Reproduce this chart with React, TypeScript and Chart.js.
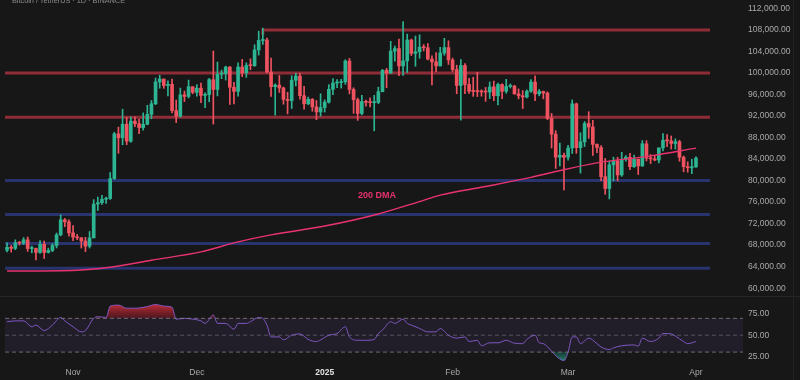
import React, { useEffect, useRef } from 'react';
import { Chart, registerables } from 'chart.js';

Chart.register(...registerables);

const title = 'Bitcoin / TetherUS · 1D · BINANCE';

// one candle per day, day 0 = 2024-10-16, day 167 = 2025-04-01
const opens = [
  67050, 67620, 67400, 68420, 68370, 69000, 67370, 67380, 66650, 68160,
  66640, 67010, 67930, 69910, 72720, 72340, 70280, 69500, 69370, 68780,
  67810, 69360, 75640, 75900, 76540, 76680, 80370, 88700, 87960, 90490,
  87330, 91060, 90580, 89850, 90470, 92310, 94290, 98350, 98890, 97670,
  97900, 93010, 91970, 95950, 95650, 97460, 96410, 97190, 95840, 96000,
  98770, 96950, 99790, 99890, 101110, 97360, 96590, 101120, 100040, 101420,
  101370, 104300, 106060, 106140, 100200, 97460, 97760, 97220, 95100, 94880,
  98670, 99430, 95790, 94280, 95120, 93710, 92770, 93580, 94590, 96980,
  98140, 98230, 98360, 102240, 96950, 95040, 92480, 94700, 94560, 94490,
  94520, 96530, 100500, 99990, 104080, 104550, 101330, 102260, 106140, 103650,
  103960, 104820, 104700, 102590, 102080, 101330, 103730, 104730, 102430, 100640,
  97690, 101400, 97870, 96620, 96590, 96530, 96480, 96470, 97430, 95780,
  97870, 96610, 97510, 97570, 96120, 95780, 95540, 96620, 98330, 96130,
  96580, 96270, 91550, 88640, 84350, 84710, 84350, 86060, 94270, 86120,
  87220, 90620, 89960, 86740, 86150, 80730, 78530, 82930, 83680, 81060,
  83980, 84340, 82580, 84010, 82720, 86850, 84170, 84040, 83830, 86080,
  87500, 87390, 86900, 87230, 84350, 82600, 82390, 82550,
];
const highs = [
  68420, 67940, 68980, 68690, 69400, 69520, 67830, 67470, 68850, 68770,
  67450, 68300, 70250, 73620, 72960, 72700, 71630, 70000, 69390, 69450,
  70550, 76460, 76940, 77250, 76950, 81500, 89000, 89950, 93270, 91790,
  91850, 91880, 91450, 92590, 94000, 94900, 99070, 99590, 98900, 98550,
  98870, 94970, 97200, 96650, 98690, 97460, 97840, 98150, 96300, 99000,
  104090, 102040, 100550, 101290, 101220, 98270, 101900, 102540, 101900, 102650,
  105250, 107790, 108350, 106520, 102800, 98000, 99540, 97400, 96420, 99500,
  99960, 99960, 97540, 95530, 95260, 94900, 96150, 95000, 97840, 98980,
  98780, 98830, 102480, 102720, 97260, 95350, 95840, 94980, 95400, 95850,
  97370, 100680, 100870, 105900, 104990, 106300, 109590, 107240, 106320, 106880,
  107120, 105290, 105470, 103220, 103800, 104780, 106460, 106000, 102780, 101460,
  102500, 101750, 99000, 99220, 100140, 96880, 97320, 98340, 98500, 98120,
  98000, 98830, 97970, 97730, 97050, 96750, 96900, 98770, 99500, 96950,
  96650, 96500, 92500, 89290, 87000, 85120, 86560, 95000, 94420, 88910,
  91000, 92810, 91220, 86850, 86500, 84120, 83620, 84360, 84350, 85260,
  84670, 85050, 84730, 84010, 87450, 87440, 84850, 84550, 86100, 88760,
  88540, 88290, 87780, 87500, 84570, 83500, 83940, 84400,
];
const lows = [
  66750, 66700, 67150, 68000, 68100, 66830, 66570, 65260, 66450, 65520,
  66540, 66800, 67480, 69730, 71430, 69680, 68820, 69030, 67460, 66800,
  67460, 69320, 74450, 75570, 75750, 76490, 80220, 85080, 86660, 86670,
  87120, 90050, 88720, 89380, 90380, 91500, 94120, 97180, 97150, 95740,
  92600, 90790, 91790, 94700, 95360, 96150, 95690, 94500, 93580, 94650,
  90500, 95750, 98950, 98700, 94150, 94260, 95690, 99310, 99200, 100620,
  101230, 103340, 105320, 100000, 95670, 92170, 96400, 94200, 92400, 93400,
  97600, 95140, 93300, 94120, 92900, 91310, 92000, 92740, 94400, 96000,
  97300, 97200, 97900, 96130, 92500, 91200, 92200, 93840, 93700, 89260,
  94320, 96500, 97260, 99950, 102220, 99500, 99550, 100100, 103250, 101260,
  102750, 104110, 102460, 97780, 100270, 101300, 103300, 101600, 100290, 96150,
  91230, 96150, 96200, 95670, 95620, 95690, 94750, 95260, 94850, 94090,
  95220, 96250, 97220, 96050, 95200, 93390, 95370, 96400, 94870, 95770,
  95200, 91350, 86050, 82260, 82750, 78260, 83820, 85040, 85080, 81390,
  86330, 87850, 84670, 85200, 80000, 77460, 76610, 79940, 79940, 80790,
  83630, 82020, 82470, 81130, 82660, 83650, 83170, 83680, 83280, 85540,
  86300, 85860, 85860, 83600, 81640, 81570, 81280, 82430,
];
const closes = [
  67620, 67400, 68420, 68370, 69000, 67370, 67380, 66650, 68160, 66640,
  67010, 67930, 69910, 72720, 72340, 70280, 69500, 69370, 68780, 67810,
  69360, 75640, 75900, 76540, 76680, 80370, 88700, 87960, 90490, 87330,
  91060, 90580, 89850, 90470, 92310, 94290, 98350, 98890, 97670, 97900,
  93010, 91970, 95950, 95650, 97460, 96410, 97190, 95840, 96000, 98770,
  96950, 99790, 99890, 101110, 97360, 96590, 101120, 100040, 101420, 101370,
  104300, 106060, 106140, 100200, 97460, 97760, 97220, 95100, 94880, 98670,
  99430, 95790, 94280, 95120, 93710, 92770, 93580, 94590, 96980, 98140,
  98230, 98360, 102240, 96950, 95040, 92480, 94700, 94560, 94490, 94520,
  96530, 100500, 99990, 104080, 104550, 101330, 102260, 106140, 103650, 103960,
  104820, 104700, 102590, 102080, 101330, 103730, 104730, 102430, 100640, 97690,
  101400, 97870, 96620, 96590, 96530, 96480, 96470, 97430, 95780, 97870,
  96610, 97510, 97570, 96120, 95780, 95540, 96620, 98330, 96130, 96580,
  96270, 91550, 88640, 84350, 84710, 84350, 86060, 94270, 86120, 87220,
  90620, 89960, 86740, 86150, 80730, 78530, 82930, 83680, 81060, 83980,
  84340, 82580, 84010, 82720, 86850, 84170, 84040, 83830, 86080, 87500,
  87390, 86900, 87230, 84350, 82600, 82390, 82550, 84200,
];

// horizontal levels (drawn lines)
const resistanceLevels = [108000, 100000, 91800];
const resistanceStartDays = [62, -0.5, -0.5];
const supportLevels = [80000, 73700, 68300, 63700];
const supportStartDays = [-0.5, -0.5, -0.5, -0.5];
const levelEndDay = 170.4;
const hookPrice = 107100;

// 200-day moving average, read at sample days
const dmaDays = [0, 13, 25, 35, 47, 56, 64, 77, 90, 100, 105, 116, 127, 132, 143, 156, 167];
const dmaValues = [63200, 63250, 63900, 65200, 66750, 68600, 69900, 71550, 73800, 76100, 77300, 78900, 80600, 81500, 83300, 84600, 86050];
const dmaLabel = '200 DMA';
const dmaLabelDay = 89.7;
const dmaLabelPrice = 77150;

// RSI (14)
const rsiDays = [
  0, 2, 4, 6, 7, 9, 11, 13, 14, 16, 18, 19, 21, 22, 24, 25, 27, 29, 31, 34,
  36, 38, 40, 41, 43, 45, 47, 48, 50, 51, 53, 55, 56, 58, 59, 61, 62, 63, 64, 66,
  67, 69, 71, 73, 75, 76, 78, 80, 82, 83, 85, 87, 89, 90, 91, 93, 94, 96, 97, 98,
  100, 102, 104, 105, 107, 109, 111, 112, 114, 115, 117, 119, 121, 123, 125, 126, 128, 129, 130, 132,
  133, 135, 136, 137, 138, 139, 141, 143, 144, 146, 147, 149, 152, 153, 154, 156, 158, 159, 161, 162,
  164, 165, 167,
];
const rsiValues = [
  66, 67, 67, 60, 62, 55.5, 62, 71, 67, 60, 54, 55.5, 70, 72, 71, 84.5, 85.7, 82, 82, 84,
  86.5, 84.5, 83, 69, 70, 69, 67, 64, 74, 64, 64, 57, 64, 64, 66, 71, 70, 62, 48, 48,
  44.5, 50, 51.5, 45, 42.5, 44.5, 50, 52, 60, 48, 44, 44, 45, 52, 56, 66, 64, 69, 64, 62,
  58, 54, 54, 58, 50, 46.5, 48, 42.5, 44, 37.5, 41, 41, 44, 40.5, 40, 45, 50, 41, 40, 31,
  25.7, 20, 30, 48, 48, 40, 46.5, 40, 36, 33, 35, 37.5, 38.5, 37, 46.5, 42.5, 46.5, 52, 51.5, 49,
  42.5, 40, 42.5,
];

const priceTicks = [60000, 64000, 68000, 72000, 76000, 80000, 84000, 88000, 92000, 96000, 100000, 104000, 108000, 112000];
const rsiTicks = [25, 50, 75];
const monthTickDays = [16, 46, 77, 108, 136, 167];
const monthTickLabels = ['Nov', 'Dec', '2025', 'Feb', 'Mar', 'Apr'];

const X_MIN = -0.5;
const X_MAX = 178.4;
const PRICE_MIN = 58360;
const PRICE_MAX = 113580;
const RSI_MIN = 14.7;
const RSI_MAX = 94.7;

const BG = '#171717';
const UP = '#2db593';
const DOWN = '#ef5360';
const RED_LEVEL = '#8f2c37';
const BLUE_LEVEL = '#29346f';
const DMA_COLOR = '#e8336f';
const AXIS_TEXT = '#a9a9a9';
const FONT = '"Liberation Sans", Arial, sans-serif';
const AXIS_W = 57;

const fmtPrice = (v: number) =>
  Number(v).toLocaleString('en-US', { minimumFractionDigits: 2, maximumFractionDigits: 2 });

export default function App() {
  const priceRef = useRef<HTMLCanvasElement | null>(null);
  const rsiRef = useRef<HTMLCanvasElement | null>(null);

  useEffect(() => {
    document.body.style.margin = '0';
    document.body.style.background = BG;
    if (!priceRef.current || !rsiRef.current) return;

    const levelSets: any[] = [];
    resistanceLevels.forEach((lv, i) => {
      const pts: any[] = [];
      if (resistanceStartDays[i] > 0) pts.push({ x: resistanceStartDays[i], y: hookPrice });
      pts.push({ x: resistanceStartDays[i], y: lv });
      pts.push({ x: levelEndDay, y: lv });
      levelSets.push({
        type: 'line', data: pts, borderColor: RED_LEVEL, borderWidth: 3,
        pointRadius: 0, fill: false, order: 5,
      });
    });
    supportLevels.forEach((lv, i) => {
      levelSets.push({
        type: 'line',
        data: [{ x: supportStartDays[i], y: lv }, { x: levelEndDay, y: lv }],
        borderColor: BLUE_LEVEL, borderWidth: 3, pointRadius: 0, fill: false, order: 5,
      });
    });

    const candleColor = (ctx: any) =>
      closes[ctx.dataIndex] >= opens[ctx.dataIndex] ? UP : DOWN;

    const dmaLabelPlugin = {
      id: 'dmaLabel',
      afterDatasetsDraw(chart: any) {
        const { ctx, scales } = chart;
        ctx.save();
        ctx.font = `bold 9px ${FONT}`;
        ctx.fillStyle = DMA_COLOR;
        ctx.textAlign = 'center';
        ctx.textBaseline = 'middle';
        ctx.fillText(dmaLabel, scales.x.getPixelForValue(dmaLabelDay), scales.y.getPixelForValue(dmaLabelPrice));
        ctx.restore();
      },
    };

    const priceChart = new Chart(priceRef.current, {
      type: 'bar',
      data: {
        datasets: [
          {
            type: 'line', label: '200 DMA',
            data: dmaDays.map((d, i) => ({ x: d, y: dmaValues[i] })),
            borderColor: DMA_COLOR, borderWidth: 1.4, pointRadius: 0,
            cubicInterpolationMode: 'monotone', fill: false, order: 0,
          },
          {
            type: 'bar', label: 'body',
            data: opens.map((o, i) => ({ x: i, y: [o, closes[i]] })),
            backgroundColor: candleColor, barThickness: 3, minBarLength: 1,
            grouped: false, borderWidth: 0, order: 1,
          },
          {
            type: 'bar', label: 'wick',
            data: lows.map((l, i) => ({ x: i, y: [l, highs[i]] })),
            backgroundColor: candleColor, barThickness: 1,
            grouped: false, borderWidth: 0, order: 2,
          },
          ...levelSets,
        ] as any,
      },
      options: {
        animation: false,
        responsive: false,
        maintainAspectRatio: false,
        layout: { padding: { left: 5, right: 0, top: 0, bottom: 0 } },
        plugins: { legend: { display: false }, tooltip: { enabled: false } },
        scales: {
          x: { type: 'linear', min: X_MIN, max: X_MAX, offset: false, display: false, grid: { display: false } },
          y: {
            position: 'right', min: PRICE_MIN, max: PRICE_MAX,
            grid: { display: false, drawTicks: false }, border: { display: false },
            afterBuildTicks: (s: any) => { s.ticks = priceTicks.map((v) => ({ value: v })); },
            afterFit: (s: any) => { s.width = AXIS_W; s.paddingTop = 0; s.paddingBottom = 0; },
            ticks: {
              color: AXIS_TEXT, padding: 5, font: { size: 8.5, family: FONT },
              callback: (v: any) => fmtPrice(v),
            },
          },
        },
      } as any,
      plugins: [dmaLabelPlugin],
    });

    const rsiPts = rsiDays.map((d, i) => ({ x: d, y: rsiValues[i] }));
    const hline = (v: number) => [{ x: X_MIN, y: v }, { x: X_MAX, y: v }];
    const dashColor = 'rgba(140,140,152,0.7)';

    const rsiChart = new Chart(rsiRef.current, {
      type: 'line',
      data: {
        datasets: [
          {
            data: hline(70), borderColor: dashColor, borderDash: [4, 3], borderWidth: 1,
            pointRadius: 0, fill: '+1', backgroundColor: 'rgba(126,87,194,0.11)',
          },
          { data: hline(30), borderColor: dashColor, borderDash: [4, 3], borderWidth: 1, pointRadius: 0, fill: false },
          { data: hline(50), borderColor: 'rgba(140,140,152,0.5)', borderDash: [4, 3], borderWidth: 1, pointRadius: 0, fill: false },
          {
            data: rsiPts, borderColor: '#7e57c2', borderWidth: 1, pointRadius: 0,
            cubicInterpolationMode: 'monotone',
            fill: { target: { value: 70 }, above: 'rgba(220,50,62,0.6)', below: 'transparent' },
          },
          {
            data: rsiPts, borderColor: 'transparent', borderWidth: 0, pointRadius: 0,
            cubicInterpolationMode: 'monotone',
            fill: { target: { value: 30 }, above: 'transparent', below: 'rgba(38,166,154,0.5)' },
          },
        ] as any,
      },
      options: {
        animation: false,
        responsive: false,
        maintainAspectRatio: false,
        layout: { padding: { left: 5, right: 0, top: 0, bottom: 0 } },
        plugins: { legend: { display: false }, tooltip: { enabled: false } },
        scales: {
          x: {
            type: 'linear', min: X_MIN, max: X_MAX, offset: false,
            grid: { display: false, drawTicks: false }, border: { display: false },
            afterBuildTicks: (s: any) => { s.ticks = monthTickDays.map((v) => ({ value: v })); },
            afterFit: (s: any) => { s.height = 15; s.paddingLeft = 0; s.paddingRight = 0; },
            ticks: {
              autoSkip: false, maxRotation: 0, padding: 3,
              color: (c: any) => (c.tick && c.tick.value === 77 ? '#e2e2e2' : AXIS_TEXT),
              font: (c: any) => ({ size: 8.5, family: FONT, weight: c.tick && c.tick.value === 77 ? 'bold' : 'normal' }),
              callback: (_v: any, i: number) => monthTickLabels[i],
            },
          },
          y: {
            position: 'right', min: RSI_MIN, max: RSI_MAX,
            grid: { display: false, drawTicks: false }, border: { display: false },
            afterBuildTicks: (s: any) => { s.ticks = rsiTicks.map((v) => ({ value: v })); },
            afterFit: (s: any) => { s.width = AXIS_W; s.paddingTop = 0; s.paddingBottom = 0; },
            ticks: {
              color: AXIS_TEXT, padding: 5, font: { size: 8.5, family: FONT },
              callback: (v: any) => Number(v).toFixed(2),
            },
          },
        },
      } as any,
    });

    // gradients for the overbought / oversold fills
    const ctx = rsiRef.current.getContext('2d');
    if (ctx) {
      const ys: any = rsiChart.scales.y;
      const gRed = ctx.createLinearGradient(0, ys.getPixelForValue(88), 0, ys.getPixelForValue(70));
      gRed.addColorStop(0, 'rgba(232,52,66,0.9)');
      gRed.addColorStop(1, 'rgba(150,28,42,0.45)');
      const gGreen = ctx.createLinearGradient(0, ys.getPixelForValue(30), 0, ys.getPixelForValue(18));
      gGreen.addColorStop(0, 'rgba(30,120,100,0.35)');
      gGreen.addColorStop(1, 'rgba(40,180,150,0.8)');
      (rsiChart.data.datasets[3] as any).fill = { target: { value: 70 }, above: gRed, below: 'transparent' };
      (rsiChart.data.datasets[4] as any).fill = { target: { value: 30 }, above: 'transparent', below: gGreen };
      rsiChart.update('none');
    }

    return () => {
      priceChart.destroy();
      rsiChart.destroy();
    };
  }, []);

  return (
    <div style={{ position: 'relative', width: 800, height: 380, background: BG, overflow: 'hidden' }}>
      <canvas ref={priceRef} width={800} height={297} style={{ position: 'absolute', left: 0, top: 0 }} />
      <canvas ref={rsiRef} width={800} height={83} style={{ position: 'absolute', left: 0, top: 297 }} />
      <div style={{ position: 'absolute', left: 0, top: 296, width: 800, height: 1, background: '#262626' }} />
      <div style={{ position: 'absolute', left: 793, top: 0, width: 1, height: 380, background: '#232323' }} />
      <div
        style={{
          position: 'absolute', left: 12, top: -4, fontFamily: FONT, fontSize: 7.3,
          lineHeight: '9px', color: '#8c8c8c', whiteSpace: 'nowrap',
        }}
      >
        {title}
      </div>
    </div>
  );
}
